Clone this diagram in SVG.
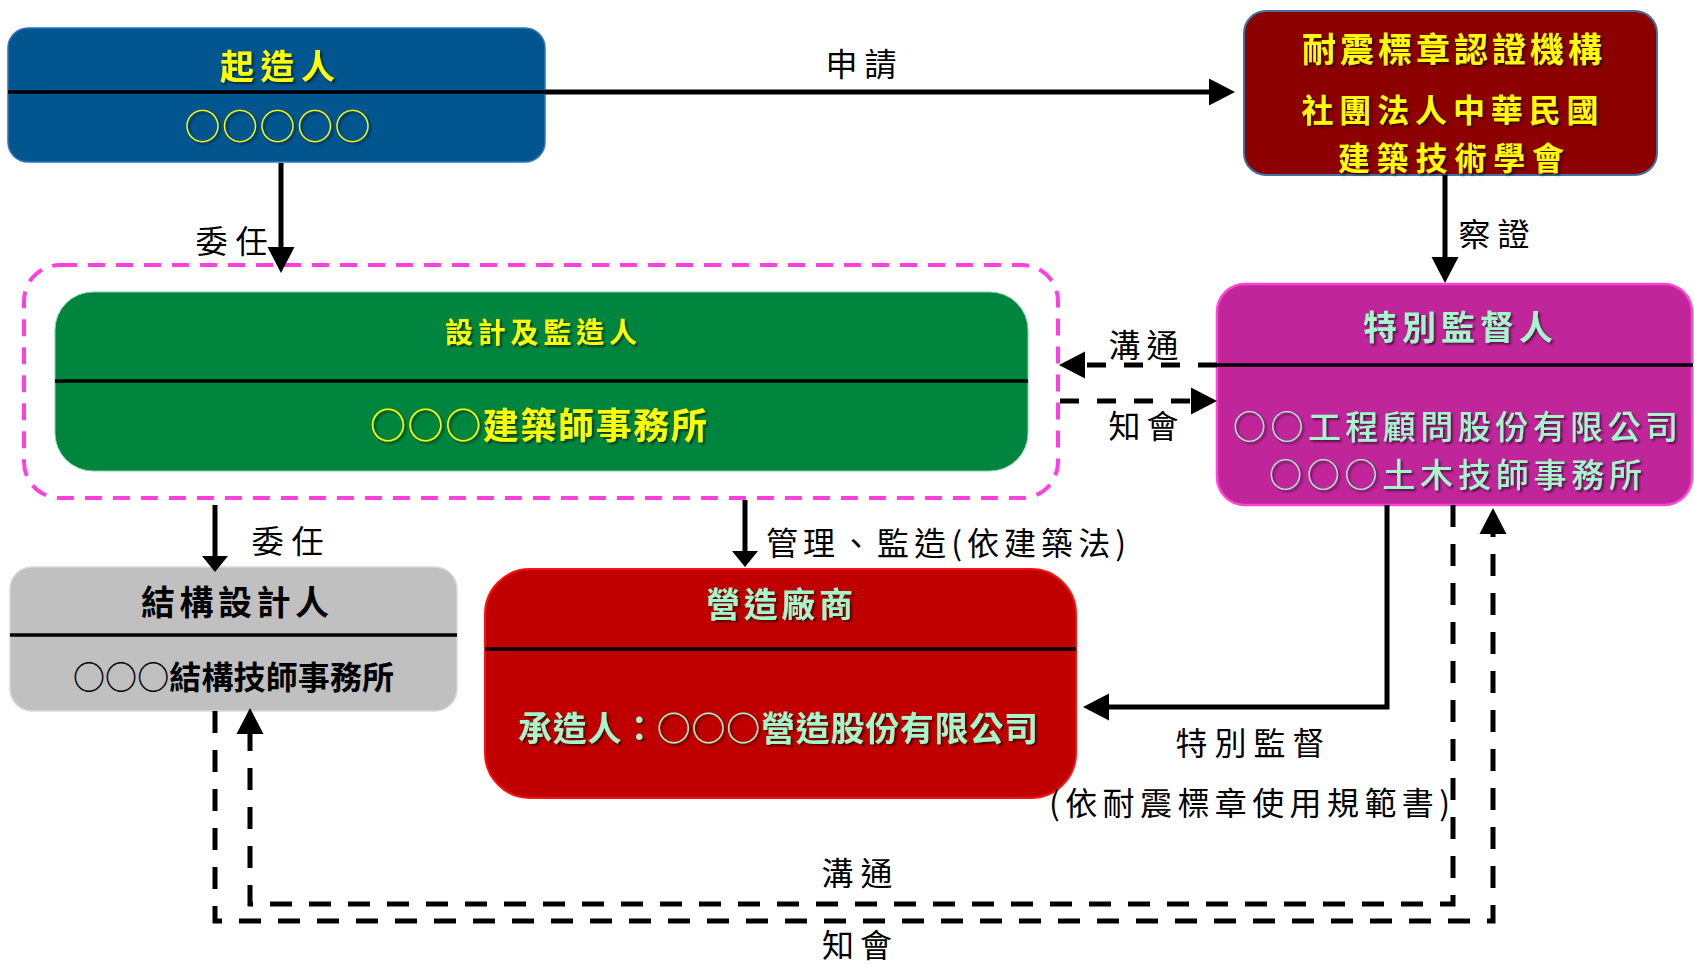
<svg xmlns="http://www.w3.org/2000/svg" width="1694" height="966" viewBox="0 0 1694 966">
<style>
  text { font-family: "Noto Sans CJK TC", "Noto Sans CJK SC", sans-serif; text-anchor: middle; }
  .ttl { font-weight: 700; font-size: 34px; }
  .lbl { font-size: 32px; fill: #000; font-weight: 400; }
  .yel { fill: #FFFF00; filter: url(#sh); }
  .mint { fill: #A3F7CB; filter: url(#sh); }
  .div { stroke: #000; stroke-width: 3.5; }
  .solid { fill: none; stroke: #000; stroke-width: 5; }
  .dash { fill: none; stroke: #000; stroke-width: 5; stroke-dasharray: 22 17; }
  .dashs { fill: none; stroke: #000; stroke-width: 5; stroke-dasharray: 19 18; }
</style>
<defs>
  <filter id="sh" x="-10%" y="-30%" width="120%" height="160%">
    <feDropShadow dx="2" dy="2" stdDeviation="1.2" flood-color="#000" flood-opacity="0.55"/>
  </filter>
  <marker id="ah" markerUnits="userSpaceOnUse" markerWidth="27" markerHeight="27" refX="0" refY="13.5" orient="auto" overflow="visible">
    <path d="M0,0 L26,13.5 L0,27 z" fill="#000"/>
  </marker>
  <marker id="ahs" markerUnits="userSpaceOnUse" markerWidth="17" markerHeight="27" refX="0" refY="13" orient="auto" overflow="visible">
    <path d="M0,0 L16,13 L0,26 z" fill="#000"/>
  </marker>
</defs>

<g id="design-group">
  <rect x="24" y="265" width="1034" height="233" rx="36" fill="none" stroke="#FF3FE0" stroke-width="4" stroke-dasharray="17 11"/>
</g>

<g id="owner">
  <rect x="8" y="28" width="537" height="134" rx="20" fill="#01568F" stroke="#2E75B6" stroke-width="1.5"/>
  <line class="div" x1="8" y1="92" x2="545" y2="92"/>
  <text class="ttl yel" x="277.5" y="79" textLength="115" lengthAdjust="spacing">起造人</text>
  <text class="yel" x="277.5" y="140" font-size="36" textLength="186" lengthAdjust="spacing">○○○○○</text>
</g>

<g id="cert-body">
  <rect x="1244" y="11" width="413" height="164" rx="22" fill="#8C0000" stroke="#41719C" stroke-width="2"/>
  <text class="ttl yel" x="1452" y="62" textLength="300" lengthAdjust="spacing">耐震標章認證機構</text>
  <text class="yel" font-size="32" font-weight="700" x="1450" y="122" textLength="297" lengthAdjust="spacing">社團法人中華民國</text>
  <text class="yel" font-size="32" font-weight="700" x="1451" y="170" textLength="226" lengthAdjust="spacing">建築技術學會</text>
</g>

<g id="architect">
  <rect x="55" y="292" width="973" height="179" rx="38" fill="#00853E" stroke="#7FD3A8" stroke-width="1"/>
  <line class="div" x1="55" y1="381" x2="1028" y2="381"/>
  <text class="yel" x="541" y="343" font-size="28" font-weight="700" textLength="192" lengthAdjust="spacing">設計及監造人</text>
  <text class="yel" x="538.5" y="439" font-size="36" font-weight="700" textLength="337" lengthAdjust="spacing">○○○建築師事務所</text>
</g>

<g id="special-supervisor">
  <rect x="1217" y="284" width="475" height="221" rx="28" fill="#C0259A" stroke="#FF44D6" stroke-width="2.5"/>
  <line class="div" x1="1217" y1="365" x2="1693" y2="365"/>
  <text class="ttl mint" x="1458" y="340" textLength="190" lengthAdjust="spacing">特別監督人</text>
  <text class="mint" font-size="33" font-weight="500" x="1455.5" y="439" textLength="445" lengthAdjust="spacing">○○工程顧問股份有限公司</text>
  <text class="mint" font-size="33" font-weight="500" x="1455.5" y="487" textLength="373" lengthAdjust="spacing">○○○土木技師事務所</text>
</g>

<g id="structural-designer">
  <rect x="10" y="567" width="447" height="144" rx="22" fill="#C0C0C0" stroke="#D9D9D9" stroke-width="1.5"/>
  <line class="div" x1="10" y1="635" x2="457" y2="635"/>
  <text class="ttl" x="235" y="615" fill="#000" textLength="188" lengthAdjust="spacing">結構設計人</text>
  <text x="233.5" y="689" font-size="32" font-weight="700" fill="#000" textLength="321" lengthAdjust="spacing">○○○結構技師事務所</text>
</g>

<g id="contractor">
  <rect x="485" y="569" width="591" height="229" rx="45" fill="#C00000" stroke="#FF1010" stroke-width="2"/>
  <line class="div" x1="485" y1="649" x2="1076" y2="649"/>
  <text class="ttl mint" x="779.5" y="617" textLength="147" lengthAdjust="spacing">營造廠商</text>
  <text class="ttl mint" x="778" y="741" textLength="520" lengthAdjust="spacing">承造人：○○○營造股份有限公司</text>
</g>

<g id="connectors">
  <!-- 申請 -->
  <path class="solid" d="M545,92 H1209" marker-end="url(#ah)"/>
  <text class="lbl" x="861" y="76" textLength="71" lengthAdjust="spacing">申請</text>
  <!-- 委任 owner -> architect -->
  <path class="solid" d="M281,163 V247" marker-end="url(#ah)"/>
  <text class="lbl" x="231.5" y="253" textLength="72" lengthAdjust="spacing">委任</text>
  <!-- 察證 -->
  <path class="solid" d="M1445,175 V257" marker-end="url(#ah)"/>
  <text class="lbl" x="1494" y="246" textLength="71" lengthAdjust="spacing">察證</text>
  <!-- 溝通 special -> architect -->
  <path class="dashs" d="M1217,365 H1085" marker-end="url(#ah)"/>
  <text class="lbl" x="1143.5" y="357" textLength="70" lengthAdjust="spacing">溝通</text>
  <!-- 知會 architect -> special -->
  <path class="dashs" d="M1060,401 H1191" marker-end="url(#ah)"/>
  <text class="lbl" x="1143.5" y="438" textLength="70" lengthAdjust="spacing">知會</text>
  <!-- 委任 architect -> structural -->
  <path class="solid" d="M215,505 V556" marker-end="url(#ahs)"/>
  <text class="lbl" x="287.5" y="553" textLength="72" lengthAdjust="spacing">委任</text>
  <!-- 管理、監造 -->
  <path class="solid" d="M745,500 V551" marker-end="url(#ahs)"/>
  <text class="lbl" x="946" y="555" font-size="33" textLength="360" lengthAdjust="spacing">管理、監造(依建築法)</text>
  <!-- 特別監督 -->
  <path class="solid" d="M1387,505 V707 H1109" marker-end="url(#ah)"/>
  <text class="lbl" x="1250" y="755" font-size="34" textLength="149" lengthAdjust="spacing">特別監督</text>
  <text class="lbl" x="1249.5" y="815" font-size="34" textLength="401" lengthAdjust="spacing">(依耐震標章使用規範書)</text>
  <!-- 溝通 special -> structural -->
  <path class="dash" d="M1453,505 V904 H250 V734" marker-end="url(#ah)"/>
  <text class="lbl" x="857" y="885" textLength="71" lengthAdjust="spacing">溝通</text>
  <!-- 知會 structural -> special -->
  <path class="dash" d="M215,711 V921 H1493 V534" marker-end="url(#ah)"/>
  <text class="lbl" x="857" y="957" font-size="30" textLength="70" lengthAdjust="spacing">知會</text>
</g>
</svg>
